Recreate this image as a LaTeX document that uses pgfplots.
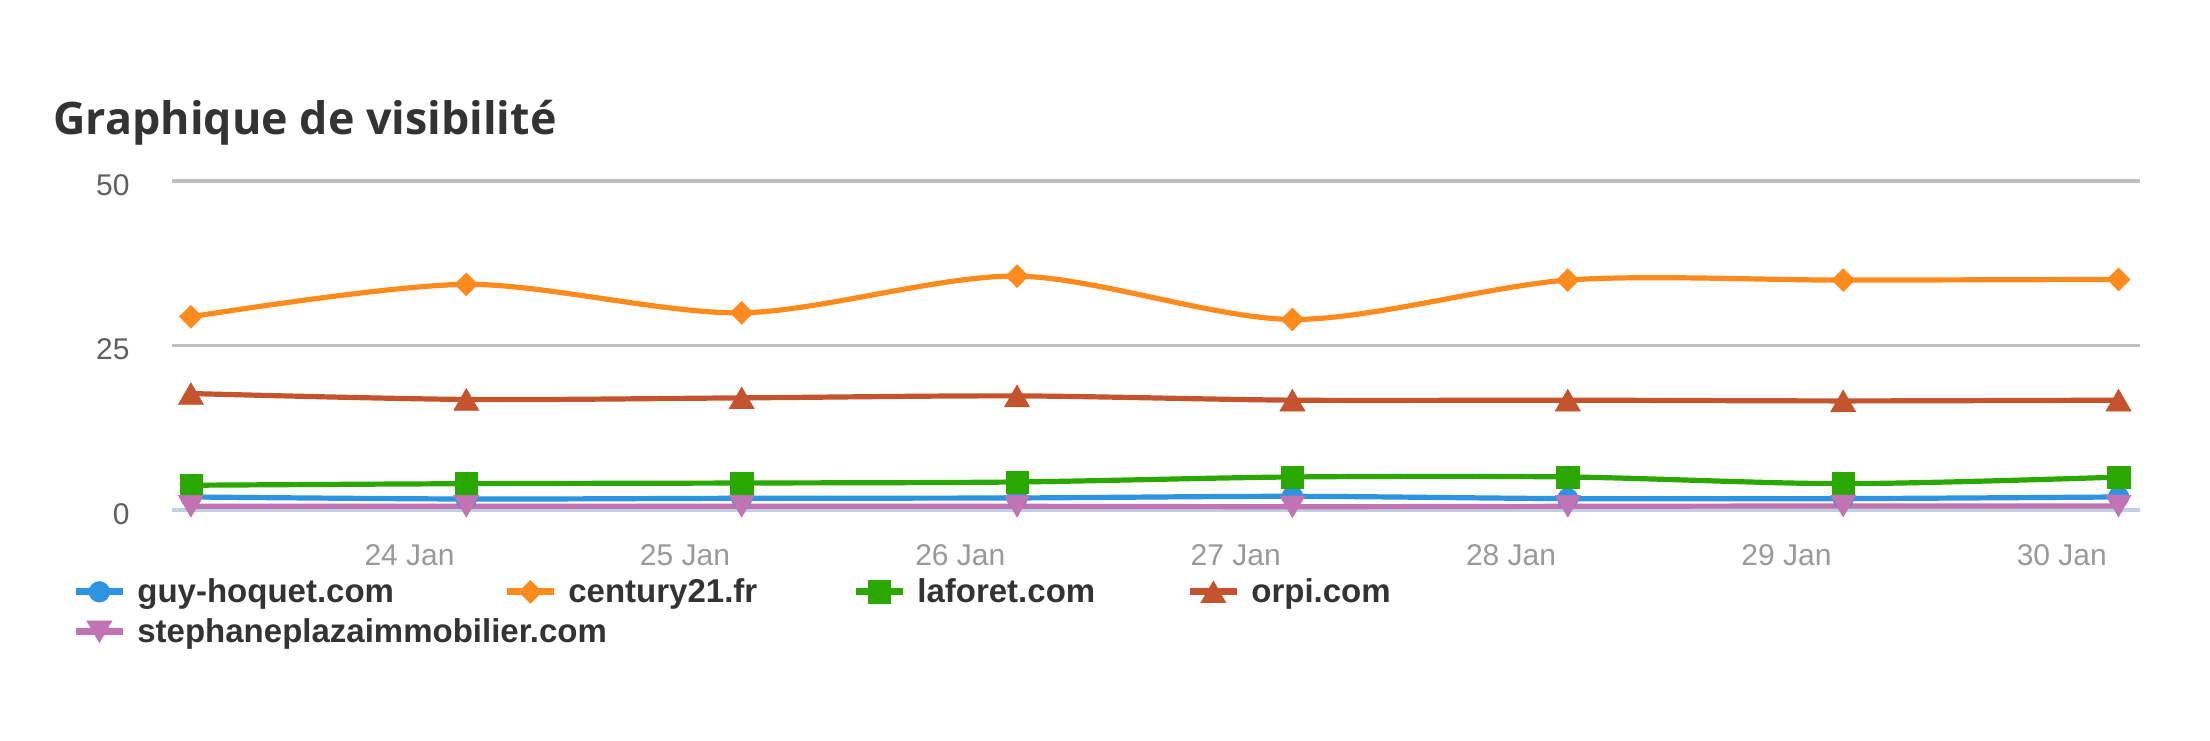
\documentclass[border=0pt]{standalone}
\usepackage{fontspec}
\setmainfont{Liberation Sans}
\newfontfamily\titlefont{Open Sans}
\usepackage{pgfplots}
\pgfplotsset{compat=1.18}
\definecolor{cBlue}{RGB}{44,148,224}
\definecolor{cOrange}{RGB}{255,138,30}
\definecolor{cGreen}{RGB}{43,168,0}
\definecolor{cRed}{RGB}{196,84,46}
\definecolor{cPink}{RGB}{193,115,180}
\definecolor{cGrid}{RGB}{191,191,191}
\definecolor{cZero}{RGB}{192,208,224}
\definecolor{cText}{RGB}{51,51,51}
\definecolor{cYlab}{RGB}{96,96,96}
\definecolor{cXlab}{RGB}{153,153,153}
\begin{document}
\begin{tikzpicture}
\useasboundingbox (0,0) rectangle (1105pt,370pt);
\node[anchor=base west, inner sep=0pt, text=cText, font=\titlefont\bfseries\fontsize{22.4}{27}\selectfont] at (26.5pt,302.85pt) {Graphique de visibilité};
\begin{axis}[
  at={(86pt,115pt)}, anchor=south west,
  width=984pt, height=164.5pt, scale only axis,
  xmin=-0.8627, xmax=6.284, ymin=0, ymax=50,
  enlargelimits=false, clip=false,
  axis line style={draw=none},
  tick style={draw=none}, major tick length=0pt,
  ytick={25,50}, extra y ticks={0},
  extra y tick style={grid style={color=cZero, line width=2pt}},
  ymajorgrids, grid style={color=cGrid, line width=1.6pt},
  xtick={0,...,6}, xticklabels={24 Jan,25 Jan,26 Jan,27 Jan,28 Jan,29 Jan,30 Jan},
  /pgf/number format/assume math mode=true,
  yticklabel style={anchor=base east, inner sep=0pt, xshift=-21pt, yshift=-7pt, text=cYlab, font=\fontsize{15}{18}\selectfont},
  xticklabel style={anchor=base, inner sep=0pt, yshift=-27.5pt, text=cXlab, font=\fontsize{15}{18}\selectfont},
  legend columns=4,
  legend cell align=left,
  legend style={at={(axis description cs:-0.05056,-0.2067)}, anchor=north west, draw=none, fill=none, inner sep=0pt, column sep=0pt, row sep=6.5pt, font=\bfseries\fontsize{16.5}{20}\selectfont, text=cText, nodes={inner sep=0pt}},
  legend image code/.code={\draw[mark repeat=2, mark phase=2, line width=3.5pt] plot coordinates {(0pt,0pt) (11.5pt,0pt) (23pt,0pt)};},
  every axis plot/.append style={line width=2.6pt, smooth, tension=0.5},
]
\addplot[color=cBlue, mark=*, mark size=5.2pt, mark options={solid, line width=0.2pt}] coordinates {
(-0.794,1.98) (0.206,1.67) (1.206,1.78) (2.206,1.83) (3.206,2.08) (4.206,1.73) (5.206,1.73) (6.206,1.98)};
\addlegendentry{\hspace*{5.75pt}\makebox[183.25pt][l]{guy-hoquet.com}}
\addplot[color=cOrange, mark=square*, mark size=4.07pt, mark options={solid, line width=0.2pt, rotate=45}] coordinates {
(-0.794,29.36) (0.206,34.3) (1.206,29.97) (2.206,35.55) (3.206,28.96) (4.206,34.94) (5.206,34.94) (6.206,35.04)};
\addlegendentry{\hspace*{5.75pt}\makebox[142.25pt][l]{century21.fr}}
\addplot[color=cGreen, mark=square*, mark size=5.6pt, mark options={solid, line width=0.2pt}] coordinates {
(-0.794,3.76) (0.206,4.0) (1.206,4.1) (2.206,4.26) (3.206,5.02) (4.206,5.02) (5.206,4.0) (6.206,5.0)};
\addlegendentry{\hspace*{5.75pt}\makebox[134.75pt][l]{laforet.com}}
\addplot[color=cRed, mark=triangle*, mark size=7.3pt, mark options={solid, line width=0.2pt, yshift=-1.8pt}] coordinates {
(-0.794,17.7) (0.206,16.8) (1.206,17.04) (2.206,17.34) (3.206,16.69) (4.206,16.69) (5.206,16.58) (6.206,16.69)};
\addlegendentry{\hspace*{5.75pt}orpi.com}
\addplot[color=cPink, mark=triangle*, mark size=7.3pt, mark options={solid, line width=0.2pt, yshift=1.8pt, rotate=180}] coordinates {
(-0.794,0.56) (0.206,0.56) (1.206,0.56) (2.206,0.56) (3.206,0.5) (4.206,0.56) (5.206,0.61) (6.206,0.61)};
\addlegendentry{\hspace*{5.75pt}\makebox[0pt][l]{stephaneplazaimmobilier.com}}
\end{axis}
\end{tikzpicture}
\end{document}
